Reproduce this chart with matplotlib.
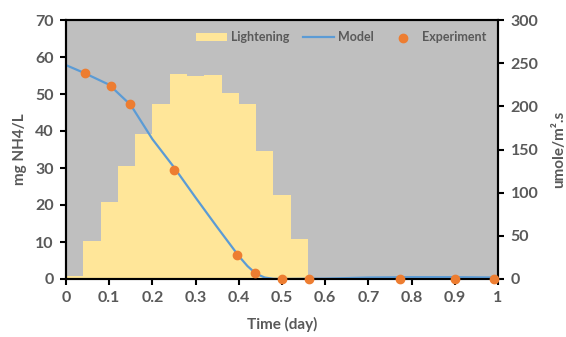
import numpy as np
import matplotlib
matplotlib.use('Agg')
import matplotlib.pyplot as plt

plt.rcParams['font.family'] = ['Lato', 'DejaVu Sans']

# Lightening bars (umole/m2.s), 0.04 day wide each
bar_start = [0.00, 0.04, 0.08, 0.12, 0.16, 0.20, 0.24, 0.28, 0.32, 0.36, 0.40, 0.44, 0.48, 0.52]
bar_light = [3, 44, 89, 131, 168, 203, 237, 235, 236, 215, 203, 148, 97, 46]

# Model curve (mg NH4/L)
t_model = [0, 0.04, 0.1, 0.15, 0.2, 0.25, 0.3, 0.35, 0.4, 0.42, 0.44, 0.46, 0.48, 0.5, 0.6, 0.7, 0.8, 0.9, 1.0]
nh4_model = [57.8, 55.8, 52.5, 47.0, 37.8, 30.2, 22.0, 14.0, 6.2, 3.5, 1.4, 0.4, 0.05, 0, 0.1, 0.4, 0.5, 0.5, 0.4]

# Experiment points (mg NH4/L)
t_exp = [0.043, 0.105, 0.147, 0.25, 0.395, 0.438, 0.5, 0.563, 0.772, 0.9, 0.99]
nh4_exp = [55.6, 52.2, 47.3, 29.4, 6.6, 1.5, 0, 0, 0, 0, 0]

grey_txt = '#595959'

fig = plt.figure(figsize=(5.66, 3.37), dpi=100)
ax1 = fig.add_axes([66/566, 1-279/337, 432/566, 259/337])
ax2 = ax1.twinx()

ax2.set_zorder(0)
ax1.set_zorder(1)
ax1.patch.set_visible(False)
ax2.patch.set_visible(True)
ax2.patch.set_facecolor('#bfbfbf')

b = ax2.bar(bar_start, bar_light, width=0.04, align='edge', color='#ffe699', label='Lightening')
ln, = ax1.plot(t_model, nh4_model, color='#5b9bd5', lw=1.6, label='Model')
sc = ax1.scatter(t_exp, nh4_exp, color='#ed7d31', s=36, zorder=5, clip_on=False, label='Experiment')

ax1.set_xlim(0, 1)
ax1.set_ylim(0, 70)
ax2.set_ylim(0, 300)
ax1.set_xticks(np.arange(0, 1.01, 0.1))
ax1.set_xticklabels(['0', '0.1', '0.2', '0.3', '0.4', '0.5', '0.6', '0.7', '0.8', '0.9', '1'])
ax1.set_yticks(range(0, 71, 10))
ax2.set_yticks(range(0, 301, 50))

for ax in (ax1, ax2):
    ax.tick_params(labelsize=11.5, colors='black', labelcolor=grey_txt, width=1.5, length=4, pad=5)
    for s in ax.spines.values():
        s.set_linewidth(1.5)
        s.set_color('black')
    for lab in ax.get_xticklabels() + ax.get_yticklabels():
        lab.set_fontweight('bold')

ax1.set_xlabel('Time (day)', fontsize=11, fontweight='bold', color=grey_txt, labelpad=8)
ax1.set_ylabel('mg NH4/L', fontsize=11, fontweight='bold', color=grey_txt, labelpad=6)
ax2.set_ylabel('umole/m².s', fontsize=11, fontweight='bold', color=grey_txt, labelpad=10)

leg = ax1.legend([b, ln, sc], ['Lightening', 'Model', 'Experiment'], loc='upper right',
                 ncol=3, frameon=False, fontsize=9, handlelength=2.5, handletextpad=0.3,
                 columnspacing=1.1, bbox_to_anchor=(1.0, 1.0), borderaxespad=0.5)
for t in leg.get_texts():
    t.set_color(grey_txt)
    t.set_fontweight('bold')

fig.savefig('out.png')
